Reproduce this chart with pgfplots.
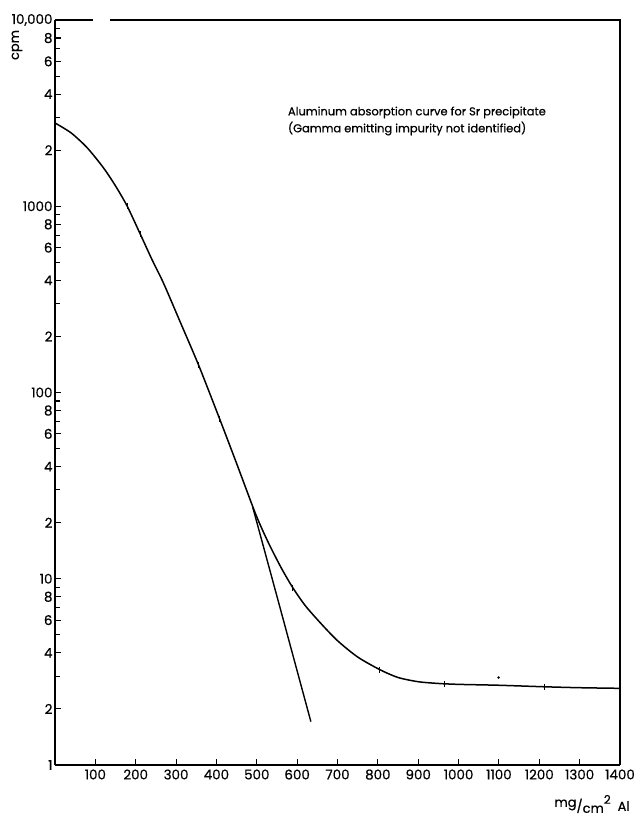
\documentclass[border=0pt]{standalone}
\usepackage{pgfplots}
\pgfplotsset{compat=1.18}
\usepackage{fontspec}
\setmainfont{Poppins}[FakeBold=0.6]
\begin{document}
\begin{tikzpicture}
\useasboundingbox (-55bp,-55bp) rectangle (582bp,765bp);
\begin{axis}[
  at={(0,0)}, anchor=south west,
  scale only axis, width=565bp, height=745bp,
  xmin=0, xmax=1400, ymin=1, ymax=10000,
  ymode=log, log basis y=10,
  axis x line*=bottom, axis y line*=left,
  axis line style={line width=1.4bp, -},
  xtick={100,200,...,1400},
  xticklabels={100,200,300,400,500,600,700,800,900,1000,1100,1200,1300,1400},
  ytick={1,2,4,6,8,10,20,40,60,80,100,200,400,600,800,1000,2000,4000,6000,8000,10000},
  yticklabels={1,2,4,6,8,10,2,4,6,8,100,2,4,6,8,1000,2,4,6,8,{10,000}},
  minor ytick={3,5,7,9,30,50,70,90,300,500,700,900,3000,5000,7000,9000},
  tick style={line width=1.1bp, black},
  major tick length=6bp, minor tick length=5bp,
  tick align=inside,
  ticklabel style={font=\fontsize{13.5}{15}\selectfont},
  /pgf/number format/assume math mode=true,
  xticklabel style={yshift=-1bp},
  yticklabel style={xshift=1bp},
  clip=false,
]
% main absorption curve
\addplot[black, line width=1.5bp, smooth, tension=0.45] coordinates {
 (0,2800) (40,2475) (80,2058) (120,1609) (150,1285) (179,1000) (211,711)
 (240,519) (269,386) (311,237) (356,140) (408,72.1) (450,41.6) (497,22.3)
 (527,15.9) (560,11.5) (589,8.97) (620,7.18) (659,5.75) (700,4.65)
 (750,3.80) (805,3.25) (850,2.95) (900,2.80) (950,2.74) (1000,2.71)
 (1100,2.68) (1213,2.63) (1300,2.60) (1400,2.58)
};
% extrapolated beta component
\addplot[black, line width=1.4bp] coordinates {
 (490,24.2) (551,7.9) (634,1.71)
};
% data point ticks
\addplot[black, only marks, mark=|, mark size=3bp, mark options={line width=1bp}] coordinates {
 (179,1000) (211,711) (356,140) (408,72.1) (589,8.97) (805,3.25) (966,2.73) (1213,2.63)
};
\addplot[black, only marks, mark=*, mark size=1bp] coordinates {(1099,2.95)};
% frame top and right
\draw[line width=1.4bp] (axis cs:0,10000) -- (axis cs:94,10000);
\draw[line width=1.4bp] (axis cs:136,10000) -- (axis cs:1400,10000) -- (axis cs:1400,1);
% annotation
\node[anchor=north west, align=left, font=\fontsize{11.5}{17}\selectfont, inner sep=0pt]
  at (rel axis cs:0.412,0.884) {Aluminum absorption curve for Sr precipitate\\(Gamma emitting impurity not identified)};
% axis labels
\node[rotate=90, font=\fontsize{13}{15}\selectfont] at ([xshift=-38bp,yshift=-25bp]rel axis cs:0,1) {cpm};
\node[font=\fontsize{13}{15}\selectfont] at ([xshift=-28bp,yshift=-39bp]rel axis cs:1,0)
  {\raisebox{4bp}{mg}/\raisebox{-2bp}{cm}\raisebox{7bp}{\fontsize{12}{13}\selectfont 2}\ \ Al};
\end{axis}
\end{tikzpicture}
\end{document}
